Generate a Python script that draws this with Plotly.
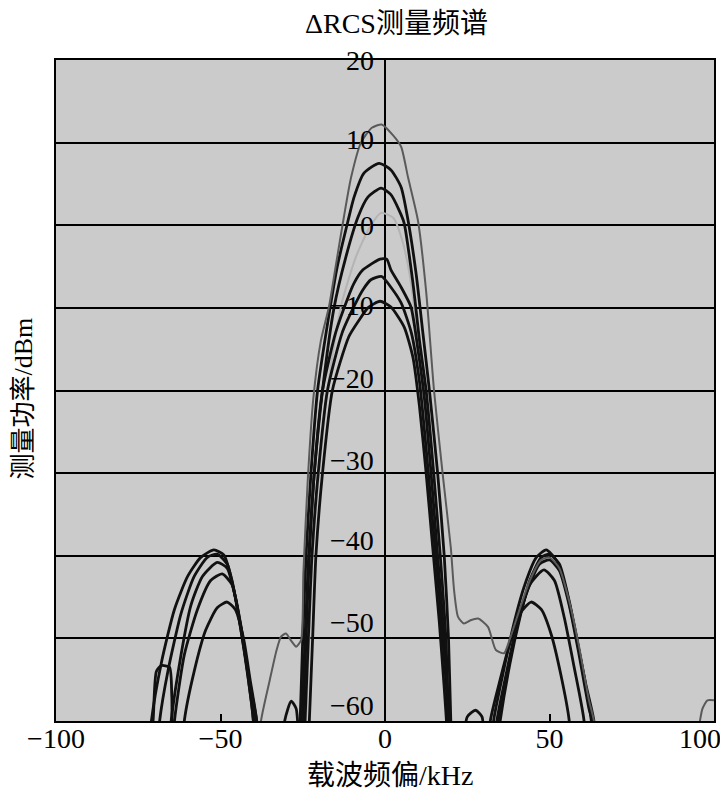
import plotly.graph_objects as go

# ---------------- data ----------------
title_text = "ΔRCS测量频谱"
x_title = "载波频偏/kHz"
y_title = "测量功率/dBm"

x_tick_vals = [-100, -50, 0, 50, 100]
x_tick_text = ["−100", "−50", "0", "50", ""]
x_last_label = "100"
y_tick_vals = [20, 10, 0, -10, -20, -30, -40, -50, -60]
y_tick_text = ["20", "10", "0", "−10", "−20", "−30", "−40", "−50", "−60"]

# curve A (grey, highest main lobe)
curve_a_x = [-40, -37.7, -35, -33, -31.6, -30.1, -28.5, -27, -25.5, -24.8, -23.5, -21.8, -19.5, -17, -15,
             -12.5, -10.3, -7.3, -4, -1, 2.4, 4.9, 7, 10, 12.5, 14.9, 17.5, 20, 21, 22.2, 24, 26, 28.3,
             31.3, 33.7, 36.2, 38, 40.5, 44, 47.5, 50, 53, 56, 59, 62, 63.5, 65,
             93, 95, 96.5, 98, 100]
curve_a_y = [-70, -60, -55, -51.5, -49.8, -49.4, -50.3, -51, -50.2, -42, -31, -21, -14, -9.8, -5,
             1, 5.8, 10, 11.8, 12.2, 10.9, 9.5, 5.8, 0.6, -8, -20, -30, -39, -44.2, -47.4, -48.2, -47.8, -47.6,
             -48.6, -51.4, -51.8, -50, -47, -43, -40.5, -40.2, -41.5, -45.5, -51, -57.5, -60, -70,
             -70, -62, -58.5, -57.5, -57.5]

# curve B (black, peak ~7.5)
curve_b_x = [-73, -71, -68, -64, -60, -56, -52, -49, -46.5, -44, -41.5, -39, -37,
             -27, -25.8, -25, -24, -22.5, -20.5, -17.5, -14.5, -11.2, -9.4, -6.4, -1.8, 1.8, 4.9, 7, 9.5,
             11.5, 13.5, 16, 18, 19.3, 20, 21,
             31, 33, 36, 39, 42.5, 46, 49, 52, 55, 58, 61, 63.5, 65]
curve_b_y = [-70, -60, -53, -46.5, -42.5, -40.2, -39.3, -39.9, -43, -48.5, -54.5, -60, -70,
             -70, -60, -50, -40, -30, -20, -12, -5, 0.6, 3.4, 6.3, 7.5, 6.7, 4.6, 0.6, -6,
             -13, -20, -30, -40, -50, -60, -70,
             -70, -60, -54, -48.5, -43.5, -40.2, -39.3, -40.5, -44, -49.5, -55.5, -60, -70]

# curve C (black, peak ~4.5)
curve_c_x = [-70, -68.5, -66, -62, -58, -54, -51, -48, -45.5, -43, -40.5, -39.5, -38,
             -26.5, -25.2, -24.3, -23.2, -21.5, -19, -15.5, -12, -8.2, -5.2, -1.2, 1.8, 4.3, 5.8, 8.5,
             10.5, 12.5, 14.8, 16.8, 18.5, 19.3, 20,
             23, 25, 27.5, 29.5, 31,
             32, 34, 37, 40, 43.5, 47, 50, 53, 56, 59, 62, 63, 64]
curve_c_y = [-70, -60, -54, -47, -42.5, -40.2, -39.8, -41, -45, -50.5, -57, -60, -70,
             -70, -60, -50, -40, -30, -20, -10, -4, 1, 3.4, 4.5, 3.7, 1.8, 0.3, -7,
             -14, -20, -30, -40, -50, -60, -70,
             -65, -59.5, -58.7, -59.5, -70,
             -70, -60, -54, -48.5, -44, -41, -40.5, -41.8, -46, -52, -58.5, -60, -70]

# curve D (light grey, peak ~1.5)
curve_d_x = [-25, -24, -23, -22, -20, -17.5, -13.5, -9, -5, -1.2, 2.5, 5, 7.5, 10, 12, 14, 16, 18, 19, 20]
curve_d_y = [-70, -60, -50, -40, -30, -20, -10, -4, -0.5, 1.5, 0.9, -1.5, -6, -14, -22, -31, -42, -52, -60, -70]

# curve E (black, peak ~-4)
curve_e_x = [-67, -65, -62, -59, -55.5, -51, -48, -45.5, -43, -40.5, -40, -39,
             -32, -30.5, -28.5, -27, -26, -25, -24, -23, -21.5, -19, -15, -11.2, -9.4, -6.7, -1.5, 0.5,
             1.8, 4.9, 7.9, 10, 12, 14, 16, 18, 19.5, 20.5,
             31.5, 34.5, 37.5, 40.5, 44, 48.3, 51.5, 54.5, 57.5, 60.5, 61.5]
curve_e_y = [-70, -60, -52, -46, -42.5, -40.8, -41.5, -45, -51, -58, -60, -70,
             -70, -60, -57.6, -58.5, -63, -60, -50, -40, -30, -20, -13, -8.7, -7, -5.4, -4.1, -4.1,
             -5.4, -7.5, -9.9, -15, -21, -30, -40, -50, -60, -70,
             -70, -60, -53.5, -48, -43.5, -41.7, -43, -47.5, -53.5, -60, -70]

# curve F (black, peak ~-6)
curve_f_x = [-66, -64, -61, -57, -53, -49.5, -46.5, -44, -41.5, -40, -39,
             -25.5, -24.3, -23.3, -22.2, -20.3, -17.5, -13, -9, -6.7, -4.3, -1, 1.8, 4.9, 8, 10.5,
             12.5, 14.5, 16.5, 18.5, 19.5, 20.5,
             32, 35, 38, 41, 44, 47.5, 50, 53, 56, 59, 62, 63, 64]
curve_f_y = [-70, -60, -52, -46.5, -43, -42.2, -43.5, -48, -55, -60, -70,
             -70, -60, -50, -40, -30, -20, -13, -9.5, -7.8, -6.6, -6.2, -7.5, -9.4, -13, -19,
             -27, -36, -45, -55, -62, -70,
             -70, -60, -53, -47.5, -43, -40.2, -39.8, -41, -45.5, -51.5, -58, -61, -70]

# curve G (black, peak ~-9)
curve_g_x = [-73, -70.5, -69.5, -68, -65.5, -64.8, -64, -62.5, -61, -58, -54.5, -51, -48, -45.5, -43, -41,
             -39, -38,
             -24, -23, -22, -21, -19, -16, -11, -7.9, -5.2, -1.5, 1.8, 5.8, 8.5, 10.5, 12.5, 14.5, 16.5,
             18, 19, 20,
             30, 32, 35, 38, 41, 44.4, 47.5, 50.5, 53.5, 56, 57]
curve_g_y = [-70, -60, -54, -53.3, -53.5, -57, -70, -70, -60, -54, -49, -46.3, -45.6, -46.5, -50, -55,
             -60, -70,
             -70, -60, -50, -40, -30, -20, -13.5, -11.5, -10, -9.2, -9.9, -12.3, -16, -22, -30, -39, -48,
             -56, -62, -70,
             -70, -60, -55, -50.5, -47, -45.6, -46.5, -49.5, -54.5, -60, -70]

# ---------------- figure ----------------
FONT = "Liberation Serif, Times New Roman, Noto Sans CJK SC, serif"

series = [
    (curve_d_x, curve_d_y, "#b4b4b4", 2.0),
    (curve_g_x, curve_g_y, "#111111", 2.8),
    (curve_f_x, curve_f_y, "#111111", 2.8),
    (curve_e_x, curve_e_y, "#111111", 2.8),
    (curve_c_x, curve_c_y, "#111111", 2.8),
    (curve_b_x, curve_b_y, "#111111", 2.8),
    (curve_a_x, curve_a_y, "#5a5a5a", 2.0),
]

fig = go.Figure()
for xs, ys, col, w in series:
    fig.add_trace(go.Scatter(x=xs, y=ys, mode="lines",
                             line=dict(color=col, width=w, shape="spline", smoothing=0.6),
                             showlegend=False, hoverinfo="skip"))

# y tick labels drawn beside the x = 0 line
label_yshift = [0, 3, 0, 2, 12, 13, 15, 16, 16]
for v, t, s in zip(y_tick_vals, y_tick_text, label_yshift):
    fig.add_annotation(x=0, y=v, xref="x", yref="y", text=t, showarrow=False,
                       xanchor="right", yanchor="middle", xshift=-9, yshift=s,
                       font=dict(family=FONT, size=28, color="black"))

# last x tick label, pulled inside the page edge
fig.add_annotation(x=x_tick_vals[-1], y=0, xref="x", yref="paper", text=x_last_label,
                   showarrow=False, xanchor="right", yanchor="top", xshift=8, yshift=-1,
                   borderpad=0,
                   font=dict(family=FONT, size=28, color="black"))

fig.add_annotation(x=0.518, y=1.055, xref="paper", yref="paper", text=title_text,
                   showarrow=False, xanchor="center", yanchor="middle",
                   font=dict(family=FONT, size=28, color="black"))
fig.add_annotation(x=0.5076, y=-0.082, xref="paper", yref="paper", text=x_title,
                   showarrow=False, xanchor="center", yanchor="middle",
                   font=dict(family=FONT, size=28, color="black"))
fig.add_annotation(x=-0.05, y=0.488, xref="paper", yref="paper", text=y_title,
                   showarrow=False, xanchor="center", yanchor="middle", textangle=-90,
                   font=dict(family=FONT, size=26, color="black"))

# the page body adds an 8 px offset, so the figure is sized 720x788 with shifted margins
fig.update_layout(
    width=720, height=788,
    margin=dict(l=48, r=14, t=52, b=75),
    paper_bgcolor="white", plot_bgcolor="#cbcbcb",
    font=dict(family=FONT, color="black"),
    xaxis=dict(range=[-100, 100], tickvals=x_tick_vals, ticktext=x_tick_text,
               ticks="inside", ticklen=7,
               tickcolor="black", tickwidth=1.5, showgrid=False, ticklabelstandoff=-9,
               zeroline=True, zerolinecolor="black", zerolinewidth=1.5,
               showline=True, mirror=True, linecolor="black", linewidth=2,
               tickfont=dict(family=FONT, size=28, color="black")),
    yaxis=dict(range=[-60, 20], tickvals=y_tick_vals, showticklabels=False, ticks="",
               showgrid=True, gridcolor="black", gridwidth=1.5,
               zeroline=True, zerolinecolor="black", zerolinewidth=1.5,
               showline=True, mirror=True, linecolor="black", linewidth=2),
)

fig.write_html("out.html")
